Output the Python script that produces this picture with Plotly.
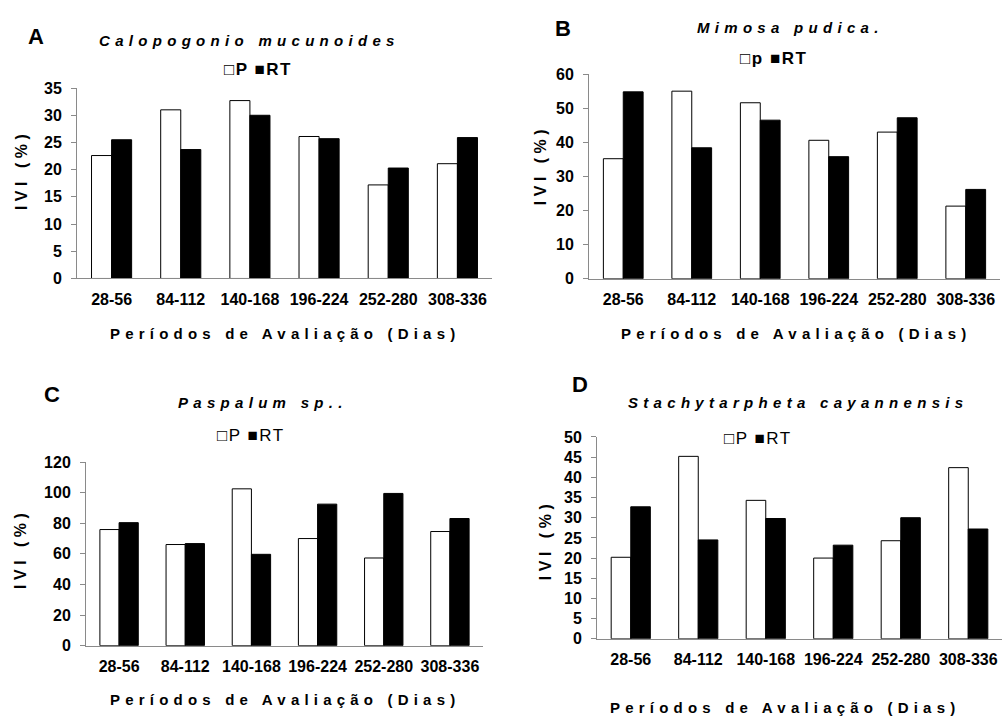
import plotly.graph_objects as go

categories = ["28-56", "84-112", "140-168", "196-224", "252-280", "308-336"]

calopogonio_p = [22.6, 31.0, 32.7, 26.1, 17.2, 21.1]
calopogonio_rt = [25.5, 23.7, 30.0, 25.7, 20.3, 25.9]

mimosa_p = [35.2, 55.0, 51.6, 40.6, 43.0, 21.3]
mimosa_rt = [54.8, 38.4, 46.5, 35.8, 47.2, 26.2]

paspalum_p = [75.9, 66.1, 102.5, 70.0, 57.3, 74.6]
paspalum_rt = [80.4, 66.7, 59.7, 92.5, 99.5, 83.1]

stachy_p = [20.2, 45.2, 34.3, 20.0, 24.3, 42.4]
stachy_rt = [32.7, 24.5, 29.8, 23.2, 30.0, 27.2]

y_ticks_a = [0, 5, 10, 15, 20, 25, 30, 35]
y_ticks_b = [0, 10, 20, 30, 40, 50, 60]
y_ticks_c = [0, 20, 40, 60, 80, 100, 120]
y_ticks_d = [0, 5, 10, 15, 20, 25, 30, 35, 40, 45, 50]

W, H = 1003, 723
FONT = "Liberation Sans, Arial, sans-serif"


def px_x(x):
    return x / W


def px_y(y):
    return 1 - y / H


panels = [
    # (suffix, p, rt, ticks, x0, x1, ytop, ybot)
    ("", calopogonio_p, calopogonio_rt, y_ticks_a, 77, 492, 82, 277),
    ("2", mimosa_p, mimosa_rt, y_ticks_b, 589, 1000, 67.7, 277.3),
    ("3", paspalum_p, paspalum_rt, y_ticks_c, 86, 483, 465, 653),
    ("4", stachy_p, stachy_rt, y_ticks_d, 597, 1002, 439.3, 646),
]

fig = go.Figure()
layout_axes = {}
for suf, p, rt, ticks, x0, x1, yt, yb in panels:
    xa = "x" + suf
    ya = "y" + suf
    fig.add_trace(go.Bar(x=categories, y=p, name="P", xaxis=xa, yaxis=ya,
                         marker=dict(color="white", line=dict(color="black", width=1)),
                         showlegend=False))
    fig.add_trace(go.Bar(x=categories, y=rt, name="RT", xaxis=xa, yaxis=ya,
                         marker=dict(color="black", line=dict(color="black", width=1)),
                         showlegend=False))
    layout_axes["xaxis" + suf] = dict(
        domain=[px_x(x0), px_x(x1)], anchor=ya, type="category",
        showline=True, linecolor="#8a8a8a", linewidth=1,
        ticks="outside", ticklen=6, tickcolor="rgba(0,0,0,0)",
        tickfont=dict(family=FONT, size=16, color="black", weight="bold"),
        showgrid=False, zeroline=False, fixedrange=True,
    )
    layout_axes["yaxis" + suf] = dict(
        domain=[px_y(yb), px_y(yt)], anchor=xa,
        range=[0, ticks[-1]], tickvals=ticks,
        showline=True, linecolor="#8a8a8a", linewidth=1,
        ticks="outside", ticklen=5, tickcolor="#8a8a8a",
        ticklabelstandoff=6,
        tickfont=dict(family=FONT, size=16, color="black", weight="bold"),
        showgrid=False, zeroline=False, fixedrange=True,
    )

fig.update_layout(**layout_axes)


def spaced(text, sp):
    return '<span style="letter-spacing:%spx">%s</span>' % (sp, text)


annotations = []


def ann(text, x, y, size, angle=0, bold=True, italic=False):
    t = text
    if italic:
        t = "<i>" + t + "</i>"
    if bold:
        t = "<b>" + t + "</b>"
    annotations.append(dict(
        text=t, x=px_x(x), y=px_y(y), xref="paper", yref="paper",
        xanchor="center", yanchor="middle", showarrow=False, textangle=angle,
        font=dict(family=FONT, size=size, color="black"),
    ))


# panel letters
ann("A", 36, 29, 22)
ann("B", 563, 21, 22)
ann("C", 52, 396, 22)
ann("D", 580, 386, 22)

# titles
ann(spaced("Calopogonio mucunoides", 5.3), 249, 33, 15, italic=True)
ann(spaced("Mimosa pudica.", 5.3), 790, 20, 15, italic=True)
ann(spaced("Paspalum sp..", 5.3), 263, 404, 15, italic=True)
ann(spaced("Stachytarpheta cayannensis", 5.3), 798, 404, 15, italic=True)

# legends
ann(spaced("\u25a1P \u25a0RT", 1.5), 258, 63, 17, bold=True)
ann(spaced("\u25a1p \u25a0RT", 1.5), 773, 52, 17, bold=True)
ann(spaced("\u25a1P \u25a0RT", 1.5), 251, 438, 17, bold=False)
ann(spaced("\u25a1P \u25a0RT", 1.5), 758, 441, 17, bold=False)

# y axis titles
ann(spaced("IVI (%)", 4.5), 21, 166, 16, angle=-90)
ann(spaced("IVI (%)", 4.5), 540, 161, 16, angle=-90)
ann(spaced("IVI (%)", 4.5), 21, 554, 16, angle=-90)
ann(spaced("IVI (%)", 4.5), 545, 545, 16, angle=-90)

# x axis titles
xt = "Períodos de Avaliação (Dias)"
ann(spaced(xt, 5.2), 285, 333, 15)
ann(spaced(xt, 5.2), 796, 333, 15)
ann(spaced(xt, 5.2), 285, 708, 15)
ann(spaced(xt, 5.2), 785, 716, 15)

fig.update_layout(
    width=W, height=H,
    margin=dict(l=0, r=0, t=0, b=0),
    paper_bgcolor="white", plot_bgcolor="white",
    barmode="group", bargap=0.42, bargroupgap=0,
    annotations=annotations,
    font=dict(family=FONT, color="black"),
    showlegend=False,
)

fig.write_html(
    "out.html",
    config={"displayModeBar": False},
    post_script="document.body.style.margin='0';document.body.style.overflow='hidden';",
)
